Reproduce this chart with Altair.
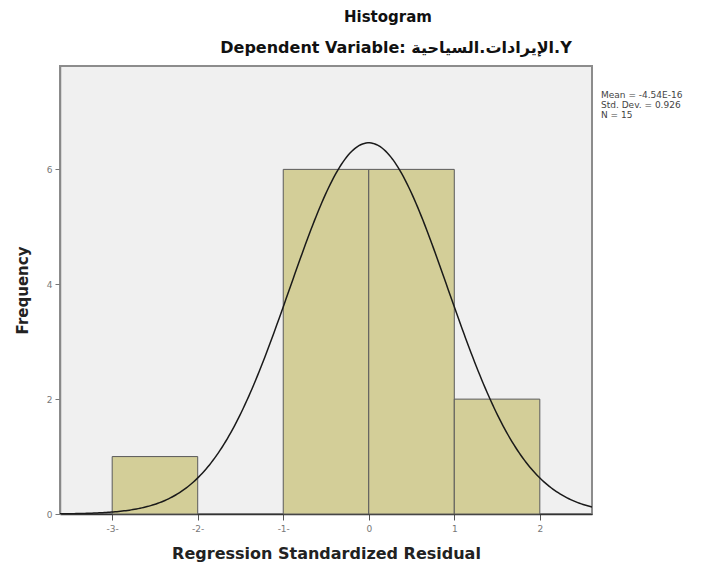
import altair as alt
import numpy as np
import pandas as pd

# Histogram bins
bin_start = [-3, -1, 0, 1]
bin_end = [-2, 0, 1, 2]
counts = [1, 6, 6, 2]

# Stated fit statistics
mean_val = -4.54e-16
std_dev = 0.926
n_obs = 15
bin_width = 1.0

x_ticks = [-3, -2, -1, 0, 1, 2]
x_tick_labels = ["-3-", "-2-", "-1-", "0", "1", "2"]
y_ticks = [0, 2, 4, 6]

x_dom = [-3.61, 2.61]
y_dom = [0, 7.8]

bars = pd.DataFrame({"start": bin_start, "end": bin_end, "count": counts})

xs = np.linspace(x_dom[0], x_dom[1], 300)
ys = n_obs * bin_width / (std_dev * np.sqrt(2 * np.pi)) * np.exp(-0.5 * ((xs - mean_val) / std_dev) ** 2)
curve = pd.DataFrame({"x": xs, "y": ys})

label_map = "{" + ",".join(f"'{v}':'{l}'" for v, l in zip(x_ticks, x_tick_labels)) + "}"

xscale = alt.Scale(domain=x_dom, nice=False, zero=False)
yscale = alt.Scale(domain=y_dom, nice=False)

xaxis = alt.Axis(values=x_ticks, labelExpr=f"{label_map}[datum.value]", grid=False,
                 title="Regression Standardized Residual", titleFontSize=16, titleFontWeight="bold",
                 titleFont="DejaVu Sans", titleColor="#222", titlePadding=12,
                 labelFont="DejaVu Sans", labelFontSize=9, labelColor="#777", labelPadding=4,
                 tickSize=6, tickColor="#555", domainColor="#333", domainWidth=1.5)
yaxis = alt.Axis(values=y_ticks, format="d", grid=False, title="Frequency", titleFontSize=15,
                 titleFontWeight="bold",
                 titleFont="DejaVu Sans", titleColor="#222", titlePadding=16,
                 labelFont="DejaVu Sans", labelFontSize=9, labelColor="#777", labelPadding=3,
                 tickSize=5, tickColor="#777", domainColor="#888", domainWidth=1.5)

bar_layer = alt.Chart(bars).mark_rect(fill="#d3ce98", stroke="#5a5a5a", strokeWidth=1).encode(
    x=alt.X("start:Q", scale=xscale, axis=xaxis),
    x2="end:Q",
    y=alt.Y("count:Q", scale=yscale, axis=yaxis),
    y2=alt.datum(0),
)

curve_layer = alt.Chart(curve).mark_line(color="#1a1a1a", strokeWidth=1.5, clip=True).encode(
    x=alt.X("x:Q", scale=xscale),
    y=alt.Y("y:Q", scale=yscale),
)

stats_lines = ["Mean = -4.54E-16", f"Std. Dev. = {std_dev}", f"N = {n_obs}"]
stats = alt.Chart(pd.DataFrame({"t": [0]})).mark_text(
    align="left", baseline="top", font="DejaVu Sans", fontSize=9, color="#444", lineHeight=10
).encode(x=alt.value(541), y=alt.value(25), text=alt.value(stats_lines))

title1 = alt.Chart(pd.DataFrame({"t": [0]})).mark_text(
    align="center", baseline="alphabetic", font="DejaVu Sans", fontSize=15, fontWeight="bold", color="#111"
).encode(x=alt.value(328), y=alt.value(-44), text=alt.value("Histogram"))

title2 = alt.Chart(pd.DataFrame({"t": [0]})).mark_text(
    align="center", baseline="alphabetic", font="DejaVu Sans", fontSize=16, fontWeight="bold", color="#111"
).encode(x=alt.value(336), y=alt.value(-13), text=alt.value("Dependent Variable: الإيرادات.السياحية.Y"))

chart = alt.layer(bar_layer, curve_layer, stats, title1, title2).properties(
    width=532, height=448,
    background="white",
    autosize=alt.AutoSizeParams(type="none"),
    padding={"left": 52, "top": 58, "right": 110, "bottom": 49},
).configure_view(fill="#f0f0f0", stroke="#8c8c8c", strokeWidth=2)

chart.save("out.html", embed_options={"renderer": "svg", "actions": False})
